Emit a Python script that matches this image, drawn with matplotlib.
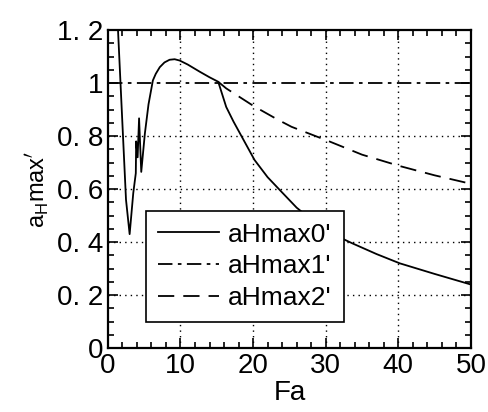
import numpy as np
import matplotlib.pyplot as plt
from matplotlib.ticker import MultipleLocator, FixedLocator, FixedFormatter

plt.rcParams['font.family'] = ['Liberation Sans', 'DejaVu Sans']

# aHmax0' : solid curve
fa0 = [1.2, 1.4, 2.0, 2.5, 3.0, 3.5, 3.85, 3.9, 4.1, 4.3, 4.6, 5.1, 5.6, 6.2, 6.6, 7.15, 7.8,
       8.5, 9.2, 9.9, 11.0, 12.65, 14.0, 15.2, 16.3, 17.3, 18.4, 20.2, 22.0, 23.7, 26.0,
       28.7, 31.0, 33.7, 37.0, 40.2, 45.0, 50.0]
a0 = [1.30, 1.20, 0.85, 0.56, 0.43, 0.585, 0.66, 0.78, 0.72, 0.867, 0.665, 0.81, 0.92, 1.01,
      1.035, 1.06, 1.078, 1.088, 1.09, 1.085, 1.07, 1.043, 1.022, 1.005, 0.91, 0.855, 0.80,
      0.71, 0.645, 0.596, 0.53, 0.47, 0.43, 0.395, 0.355, 0.32, 0.28, 0.24]

# aHmax1' : constant level
fa1 = [0.0, 50.0]
a1 = [1.0, 1.0]

# aHmax2' : dashed branch after the crossing
fa2 = [15.2, 16.3, 20.1, 23.4, 25.3, 30.5, 35.0, 40.2, 45.0, 50.0]
a2 = [1.005, 0.98, 0.913, 0.862, 0.835, 0.78, 0.73, 0.687, 0.652, 0.62]

yticks = [0, 0.2, 0.4, 0.6, 0.8, 1.0, 1.2]
ylabels = ['0', '0. 2', '0. 4', '0. 6', '0. 8', '1', '1. 2']

fig = plt.figure(figsize=(4.88, 4.12), dpi=100)
ax = fig.add_axes([0.221, 0.155, 0.744, 0.772])

ax.plot(fa0, a0, color='black', lw=1.3, label="aHmax0'")
ax.plot(fa1, a1, color='black', lw=1.3, dashes=(8, 3, 2, 3), label="aHmax1'")
ax.plot(fa2, a2, color='black', lw=1.3, dashes=(9, 5), label="aHmax2'")

ax.set_xlim(0, 50)
ax.set_ylim(0, 1.2)
ax.xaxis.set_major_locator(MultipleLocator(10))
ax.xaxis.set_minor_locator(MultipleLocator(2))
ax.yaxis.set_major_locator(FixedLocator(yticks))
ax.yaxis.set_major_formatter(FixedFormatter(ylabels))
ax.yaxis.set_minor_locator(MultipleLocator(0.05))

ax.tick_params(which='both', direction='in', top=True, right=True, width=1.2)
ax.tick_params(which='major', length=7, labelsize=20)
ax.tick_params(which='minor', length=4)
for s in ax.spines.values():
    s.set_linewidth(1.6)

for v in [10, 20, 30, 40]:
    ax.axvline(v, color='black', lw=1.0, ls=(0, (1, 3)), zorder=0)
for v in [0.2, 0.4, 0.6, 0.8]:
    ax.axhline(v, color='black', lw=1.0, ls=(0, (1, 3)), zorder=0)

ax.set_xlabel('Fa', fontsize=20, labelpad=1)
ax.set_ylabel(r"a$_\mathregular{H}$max$'$", fontsize=17, labelpad=4)

leg = ax.legend(loc='lower left', bbox_to_anchor=(0.07, 0.04), fontsize=19,
                frameon=True, fancybox=False, framealpha=1, edgecolor='black',
                handlelength=2.3, handletextpad=0.35, borderpad=0.45, labelspacing=0.3)
leg.get_frame().set_linewidth(1.2)

fig.savefig('out.png', dpi=100)
